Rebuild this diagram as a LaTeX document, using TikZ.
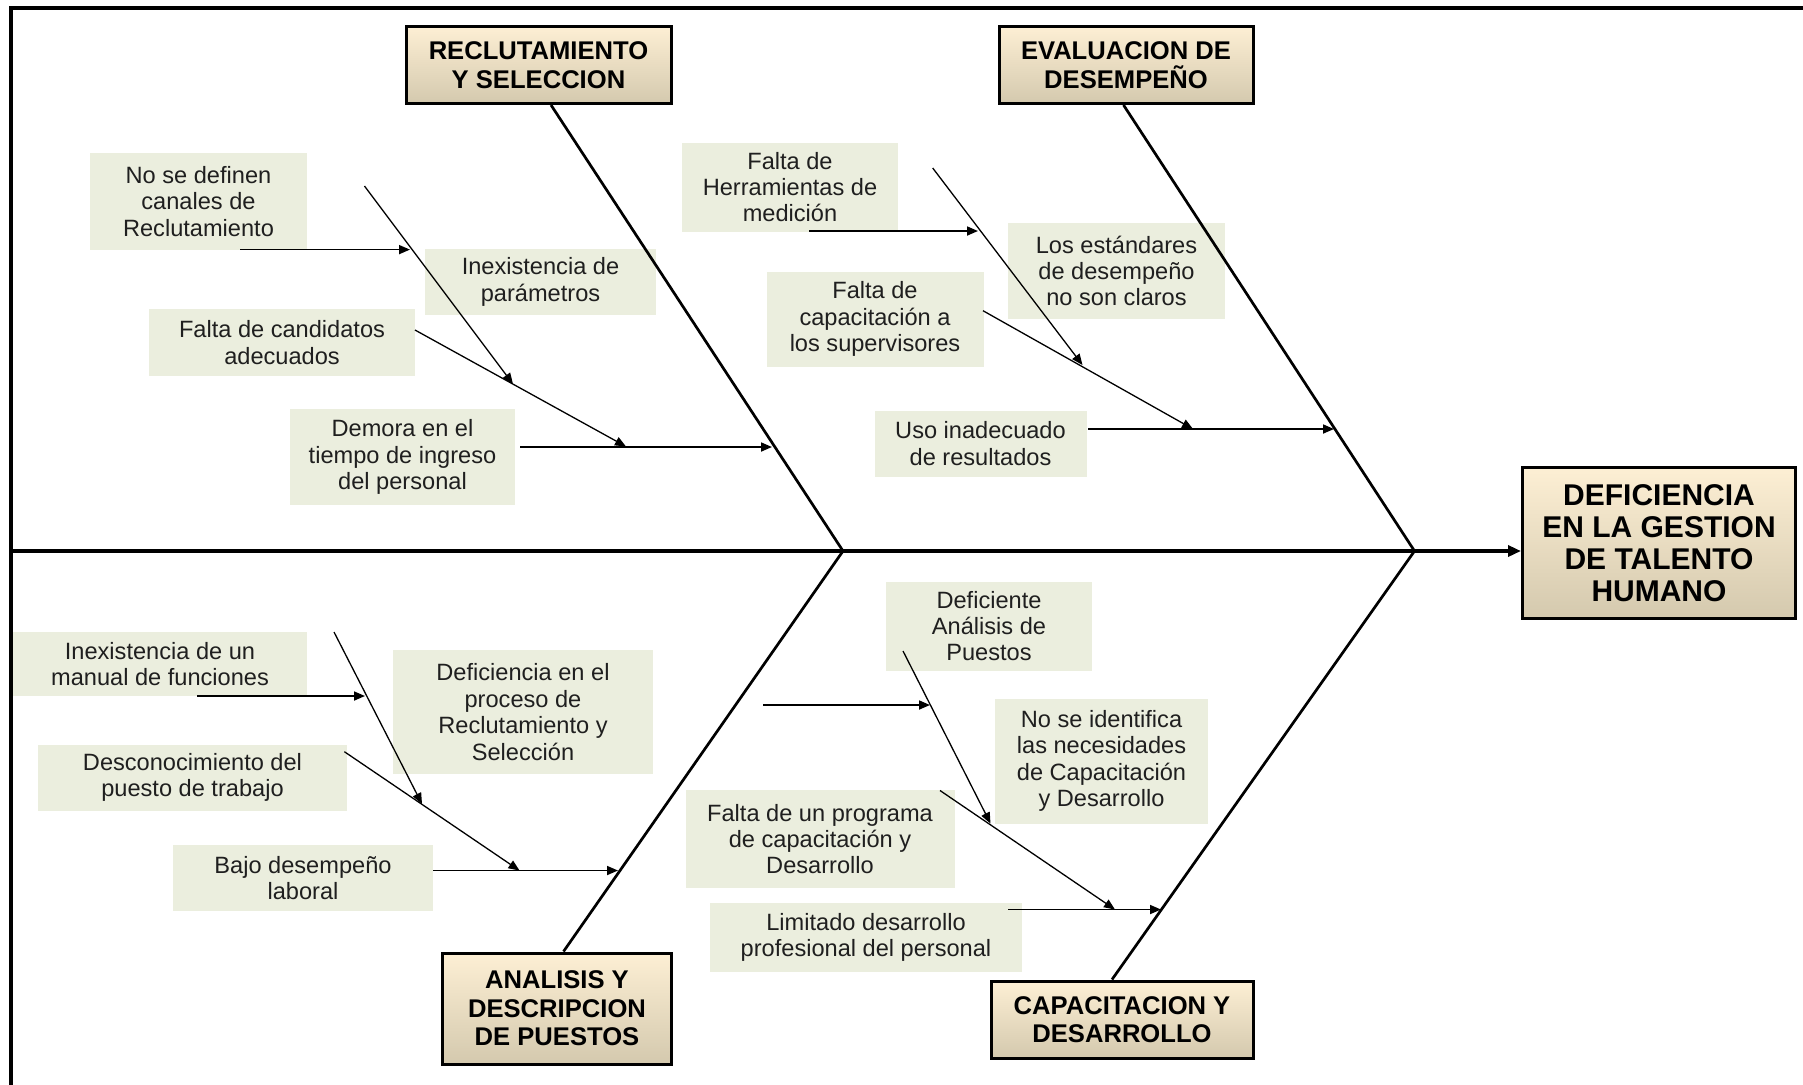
\documentclass[tikz,border=0pt]{standalone}
\usepackage{fontspec}
\setmainfont{Liberation Sans}
\usetikzlibrary{arrows.meta,calc}
\definecolor{causefill}{RGB}{235,238,222}
\definecolor{headtop}{RGB}{253,239,212}
\definecolor{headbot}{RGB}{212,201,174}
\tikzset{
  cause/.style={fill=causefill, inner sep=0pt, align=center, text=black!88,
    font=\fontsize{11.8pt}{13.2pt}\selectfont},
  headbox/.style={draw=black, line width=1.5pt, top color=headtop, middle color=headtop,
    bottom color=headbot, inner sep=0pt, align=center,
    font=\bfseries\fontsize{12.8pt}{14.2pt}\selectfont},
  effbox/.style={headbox, font=\bfseries\fontsize{15pt}{16pt}\selectfont},
  bone/.style={line width=1.35pt},
  spine/.style={line width=1.75pt, -{Triangle[length=6.5pt,width=5.5pt]}},
  subarrow/.style={line width=0.85pt, -{Triangle[length=5.5pt,width=4.5pt]}},
  diagarrow/.style={line width=0.65pt, -{Triangle[length=5.5pt,width=4.5pt]}},
  frameline/.style={line width=2pt}
}
\begin{document}
\begin{tikzpicture}[x=0.5pt,y=-0.5pt]
\useasboundingbox (0,0) rectangle (1803,1084);
\fill[white] (0,0) rectangle (1803,1084);
% frame
\coordinate (fb) at (11,1090);
\coordinate (ftl) at (11,7.5);
\coordinate (fr) at (1810,7.5);
\draw[frameline] (fb) -- (ftl) -- (fr);

% cause boxes
\node[cause, minimum width=108.5pt, minimum height=48.25pt] (c1) at (198.5,201.5) {No se definen\\canales de\\Reclutamiento};
\node[cause, minimum width=115.5pt, minimum height=33.25pt] (c2) at (540.5,282) {Inexistencia de\\parámetros};
\node[cause, minimum width=133pt, minimum height=33.25pt] (c3) at (282,342.5) {Falta de candidatos\\adecuados};
\node[cause, minimum width=112.5pt, minimum height=48pt] (c4) at (402.5,457) {Demora en el\\tiempo de ingreso\\del personal};

\node[cause, minimum width=108pt, minimum height=44.5pt] (c5) at (790,187) {Falta de\\Herramientas de\\medición};
\node[cause, minimum width=108.5pt, minimum height=47.75pt] (c6) at (1116.5,271) {Los estándares\\de desempeño\\no son claros};
\node[cause, minimum width=108.5pt, minimum height=47.5pt] (c7) at (875,319) {Falta de\\capacitación a\\los supervisores};
\node[cause, minimum width=106pt, minimum height=33pt] (c8) at (980.5,443.5) {Uso inadecuado\\de resultados};

\node[cause, minimum width=147pt, minimum height=32pt] (c9) at (160,664) {Inexistencia de un\\manual de funciones};
\node[cause, minimum width=130pt, minimum height=61.75pt] (c10) at (523,712) {Deficiencia en el\\proceso de\\Reclutamiento y\\Selección};
\node[cause, minimum width=154.5pt, minimum height=33pt] (c11) at (192.5,777.5) {Desconocimiento del\\puesto de trabajo};
\node[cause, minimum width=130pt, minimum height=33pt] (c12) at (303,878) {Bajo desempeño\\laboral};

\node[cause, minimum width=103pt, minimum height=44.5pt] (c13) at (989,626) {Deficiente\\Análisis de\\Puestos};
\node[cause, minimum width=106.75pt, minimum height=62.5pt] (c14) at (1101.5,761) {No se identifica\\las necesidades\\de Capacitación\\y Desarrollo};
\node[cause, minimum width=134.5pt, minimum height=49pt] (c15) at (820,839) {Falta de un programa\\de capacitación y\\Desarrollo};
\node[cause, minimum width=156pt, minimum height=34.5pt] (c16) at (866,937.5) {Limitado desarrollo\\profesional del personal};

% category and effect boxes
\node[headbox, minimum width=132.5pt, minimum height=38.5pt] (rs) at (538.5,65) {RECLUTAMIENTO\\Y SELECCION};
\node[headbox, minimum width=127pt, minimum height=38.5pt] (ed) at (1126,65) {EVALUACION DE\\DESEMPEÑO};
\node[headbox, minimum width=114.5pt, minimum height=55.5pt] (ad) at (557,1008.5) {ANALISIS Y\\DESCRIPCION\\DE PUESTOS};
\node[headbox, minimum width=131pt, minimum height=38.5pt] (cd) at (1122,1019.5) {CAPACITACION Y\\DESARROLLO};
\node[effbox, minimum width=136.5pt, minimum height=75.5pt] (eff) at (1659,543) {DEFICIENCIA\\EN LA GESTION\\DE TALENTO\\HUMANO};

% junctions on the spine
\coordinate (sp0) at (11,551);
\coordinate (j1) at (843,551);
\coordinate (j2) at (1414.5,551);

% spine and bones
\draw[spine] (sp0) -- (sp0 -| eff.west);
\draw[bone] ($(rs.south)+(12.5,0)$) -- (j1) -- ($(ad.north)+(6.5,0)$);
\draw[bone] ($(ed.south)+(-2.5,0)$) -- (j2) -- ($(cd.north)+(-10,0)$);

% upper left branch
\coordinate (a1s) at (240,249.6);  \coordinate (a1e) at (410,249.6);
\coordinate (d1s) at (364.5,186);  \coordinate (d1e) at (513,384);
\coordinate (d2s) at (415,330);    \coordinate (d2e) at (626,446.5);
\coordinate (a2s) at (520,447);    \coordinate (a2e) at (772,447);
\draw[subarrow] (a1s) -- (a1e);
\draw[diagarrow] (d1s) -- (d1e);
\draw[diagarrow] (d2s) -- (d2e);
\draw[subarrow] (a2s) -- (a2e);

% upper right branch
\coordinate (a3s) at (809,231);    \coordinate (a3e) at (978,231);
\coordinate (d3s) at (932.7,168);  \coordinate (d3e) at (1082.5,365);
\coordinate (d4s) at (983,310.7);  \coordinate (d4e) at (1193,429);
\coordinate (a4s) at (1088,429);   \coordinate (a4e) at (1334,429);
\draw[subarrow] (a3s) -- (a3e);
\draw[diagarrow] (d3s) -- (d3e);
\draw[diagarrow] (d4s) -- (d4e);
\draw[subarrow] (a4s) -- (a4e);

% lower left branch
\coordinate (a5s) at (197,696);    \coordinate (a5e) at (365,696);
\coordinate (d5s) at (334,632);    \coordinate (d5e) at (422,804);
\coordinate (d6s) at (344.4,751.7); \coordinate (d6e) at (519.5,870.5);
\coordinate (a6s) at (433,870.5);  \coordinate (a6e) at (618,870.5);
\draw[subarrow] (a5s) -- (a5e);
\draw[diagarrow] (d5s) -- (d5e);
\draw[diagarrow] (d6s) -- (d6e);
\draw[subarrow] (a6s) -- (a6e);

% lower right branch
\coordinate (a7s) at (763,705);    \coordinate (a7e) at (930,705);
\coordinate (d7s) at (903,651);    \coordinate (d7e) at (990.5,823.5);
\coordinate (d8s) at (940,790.5);  \coordinate (d8e) at (1115,909.5);
\coordinate (a8s) at (1008,909.5); \coordinate (a8e) at (1161,909.5);
\draw[subarrow] (a7s) -- (a7e);
\draw[diagarrow] (d7s) -- (d7e);
\draw[diagarrow] (d8s) -- (d8e);
\draw[subarrow] (a8s) -- (a8e);
\end{tikzpicture}
\end{document}
